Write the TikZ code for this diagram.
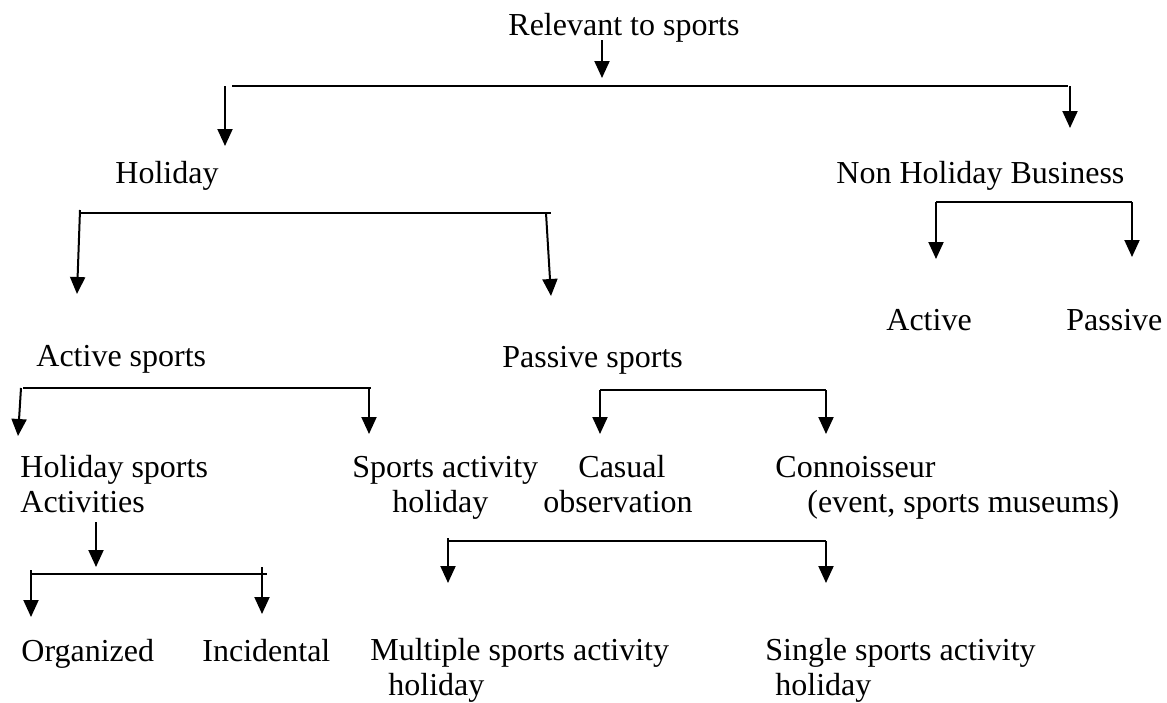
\documentclass[tikz,border=0pt]{standalone}
\usepackage{fontspec}
\setmainfont{Liberation Serif}
\usetikzlibrary{arrows.meta}

\begin{document}
\begin{tikzpicture}[x=0.5pt, y=-0.5pt,
		lbl/.style={anchor=base west, inner sep=0pt, align=left, font=\fontsize{16}{17.5}\selectfont},
		arr/.style={line width=1pt, -{Triangle[width=7.5pt,length=8.5pt]}},
		bar/.style={line width=0.9pt}]
		\useasboundingbox (0,0) rectangle (1167,702);
		
		% Labels (anchored at the baseline of the last line)
		\node[lbl] (root) at (508,35) {Relevant to sports};
		\node[lbl] (hol) at (115,183) {Holiday};
		\node[lbl] (nhb) at (836,183) {Non Holiday Business};
		\node[lbl] (act) at (886,330) {Active};
		\node[lbl] (pas) at (1066,330) {Passive};
		\node[lbl] (actsp) at (36,366) {Active sports};
		\node[lbl] (passp) at (502,367) {Passive sports};
		\node[lbl] (holact) at (20,512) {Holiday sports\\Activities};
		\node[lbl] (sah) at (352,512) {Sports activity\\\hspace*{20pt}holiday};
		\node[lbl] (cas) at (543,512) {\hspace*{17.5pt}Casual\\observation};
		\node[lbl] (con) at (775,512) {Connoisseur\\\hspace*{16pt}(event, sports museums)};
		\node[lbl] (org) at (21,661) {Organized};
		\node[lbl] (inc) at (202,661) {Incidental};
		\node[lbl] (mult) at (370,695) {Multiple sports activity\\\hspace*{9pt}holiday};
		\node[lbl] (sing) at (765,695) {Single sports activity\\\hspace*{5pt}holiday};
		
		% Bar ends and arrow tips
		\coordinate (r0) at (602,40);   \coordinate (r1) at (602,78);
		\coordinate (b1L) at (225,86);  \coordinate (t1L) at (225,146);
		\coordinate (b1R) at (1070,86); \coordinate (t1R) at (1070,128);
		\coordinate (b2L) at (936,202); \coordinate (t2L) at (936,259);
		\coordinate (b2R) at (1132,202); \coordinate (t2R) at (1132,257);
		\coordinate (b3L) at (80,210);  \coordinate (t3L) at (77,294);
		\coordinate (b3R) at (546,213); \coordinate (t3R) at (551,296);
		\coordinate (b4L) at (21,388);  \coordinate (t4L) at (18,436);
		\coordinate (b4R) at (369,388); \coordinate (t4R) at (369,434);
		\coordinate (b5L) at (600,390); \coordinate (t5L) at (600,434);
		\coordinate (b5R) at (826,390); \coordinate (t5R) at (826,434);
		\coordinate (a0) at (96,522);   \coordinate (a1) at (96,567);
		\coordinate (b6L) at (31,570);  \coordinate (t6L) at (31,617);
		\coordinate (b6R) at (262,567); \coordinate (t6R) at (262,614);
		\coordinate (b7L) at (448,538); \coordinate (t7L) at (448,583);
		\coordinate (b7R) at (826,541); \coordinate (t7R) at (826,583);
		
		% Horizontal bars
		\draw[bar] (232,86) -- (1068,86);
		\draw[bar] (b2L) -- (b2R);
		\draw[bar] (80,213) -- (551,213);
		\draw[bar] (23,388) -- (371,388);
		\draw[bar] (b5L) -- (b5R);
		\draw[bar] (30,574) -- (267,574);
		\draw[bar] (448,541) -- (b7R);
		
		% Arrows
		\foreach \a/\b in {r0/r1, b1L/t1L, b1R/t1R, b2L/t2L, b2R/t2R,
			b3L/t3L, b3R/t3R, b4L/t4L, b4R/t4R, b5L/t5L, b5R/t5R,
			a0/a1, b6L/t6L, b6R/t6R, b7L/t7L, b7R/t7R} {
			\draw[arr] (\a) -- (\b);
		}
	\end{tikzpicture}
\end{document}
